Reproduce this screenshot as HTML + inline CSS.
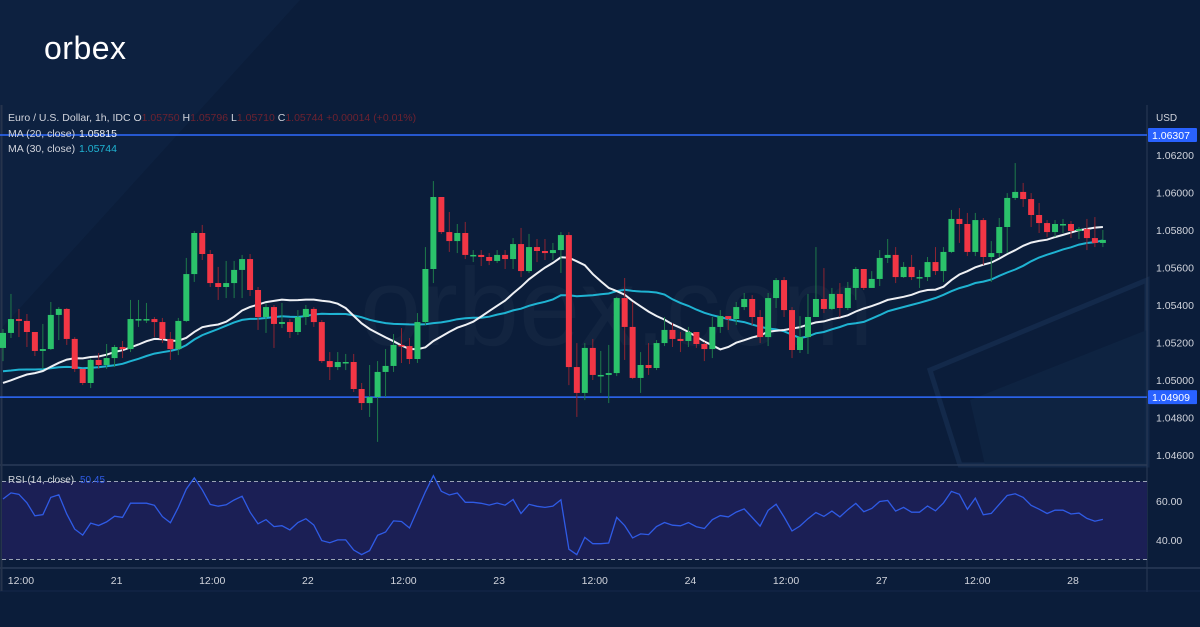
<!DOCTYPE html>
<html><head><meta charset="utf-8">
<style>
html,body{margin:0;padding:0;background:#0b1d3a;}
#wrap{position:relative;width:1200px;height:627px;overflow:hidden;background:#0b1d3a;font-family:"Liberation Sans",sans-serif;}
svg{position:absolute;left:0;top:0;}
</style></head>
<body>
<div id="wrap">
<svg id="chart" width="1200" height="627"></svg>
</div>
<script>
const open0 = 1.05171;
const closes = [1.05251,1.05325,1.05315,1.05256,1.05155,1.05165,1.05347,1.05379,1.05219,1.05059,1.04984,1.05107,1.05080,1.05117,1.05176,1.05165,1.05325,1.05325,1.05325,1.05309,1.05219,1.05165,1.05315,1.05565,1.05784,1.05672,1.05517,1.05496,1.05517,1.05587,1.05645,1.05480,1.05336,1.05389,1.05299,1.05309,1.05256,1.05336,1.05379,1.05309,1.05101,1.05069,1.05096,1.05096,1.04952,1.04877,1.04909,1.05043,1.05075,1.05187,1.05181,1.05112,1.05309,1.05592,1.05976,1.05789,1.05741,1.05784,1.05667,1.05667,1.05656,1.05635,1.05667,1.05645,1.05725,1.05581,1.05709,1.05688,1.05677,1.05693,1.05773,1.05069,1.04931,1.05171,1.05027,1.05027,1.05037,1.05437,1.05283,1.05011,1.05080,1.05064,1.05197,1.05267,1.05219,1.05208,1.05256,1.05192,1.05165,1.05283,1.05341,1.05325,1.05389,1.05432,1.05336,1.05229,1.05437,1.05533,1.05373,1.05160,1.05229,1.05336,1.05432,1.05379,1.05459,1.05384,1.05491,1.05592,1.05491,1.05539,1.05651,1.05667,1.05549,1.05603,1.05549,1.05549,1.05629,1.05581,1.05683,1.05859,1.05832,1.05683,1.05853,1.05656,1.05677,1.05816,1.05971,1.06003,1.05965,1.05880,1.05837,1.05789,1.05832,1.05832,1.05795,1.05805,1.05757,1.05731,1.05747];
const highs = [1.05272,1.05459,1.05379,1.05352,1.05256,1.05299,1.05416,1.05389,1.05384,1.05229,1.05059,1.05117,1.05144,1.05192,1.05187,1.05208,1.05427,1.05427,1.05411,1.05336,1.05331,1.05256,1.05331,1.05651,1.05795,1.05827,1.05693,1.05603,1.05635,1.05635,1.05667,1.05672,1.05496,1.05411,1.05400,1.05411,1.05325,1.05373,1.05400,1.05389,1.05320,1.05149,1.05149,1.05139,1.05139,1.04984,1.05080,1.05101,1.05165,1.05245,1.05277,1.05224,1.05357,1.05709,1.06061,1.05976,1.05896,1.05832,1.05843,1.05693,1.05693,1.05677,1.05693,1.05693,1.05757,1.05811,1.05779,1.05752,1.05752,1.05731,1.05789,1.05789,1.05197,1.05197,1.05219,1.05155,1.05187,1.05443,1.05544,1.05416,1.05149,1.05197,1.05213,1.05336,1.05304,1.05256,1.05283,1.05256,1.05203,1.05336,1.05373,1.05336,1.05416,1.05464,1.05453,1.05373,1.05464,1.05544,1.05549,1.05389,1.05341,1.05459,1.05709,1.05597,1.05491,1.05517,1.05523,1.05603,1.05587,1.05581,1.05693,1.05752,1.05709,1.05629,1.05667,1.05587,1.05656,1.05709,1.05709,1.05907,1.05917,1.05891,1.05891,1.05864,1.05741,1.05864,1.05997,1.06157,1.06051,1.05997,1.05944,1.05853,1.05853,1.05859,1.05848,1.05816,1.05859,1.05869,1.05800];
const lows = [1.05101,1.05224,1.05229,1.05176,1.05128,1.05059,1.05160,1.05213,1.05187,1.05043,1.04973,1.04957,1.05059,1.05059,1.05069,1.05117,1.05149,1.05283,1.05304,1.05229,1.05197,1.05107,1.05133,1.05309,1.05523,1.05640,1.05496,1.05427,1.05437,1.05437,1.05437,1.05448,1.05267,1.05251,1.05171,1.05277,1.05224,1.05240,1.05293,1.05283,1.05091,1.05000,1.05053,1.05053,1.04936,1.04840,1.04803,1.04670,1.04909,1.05043,1.05091,1.05085,1.05091,1.05293,1.05517,1.05779,1.05683,1.05677,1.05645,1.05629,1.05608,1.05613,1.05624,1.05592,1.05592,1.05549,1.05571,1.05629,1.05640,1.05640,1.05571,1.04973,1.04803,1.04893,1.05000,1.04931,1.04877,1.05021,1.05107,1.05005,1.04931,1.05027,1.05053,1.05181,1.05176,1.05149,1.05176,1.05171,1.05101,1.05117,1.05251,1.05267,1.05293,1.05373,1.05293,1.05197,1.05181,1.05384,1.05336,1.05117,1.05144,1.05139,1.05336,1.05357,1.05373,1.05336,1.05373,1.05427,1.05480,1.05496,1.05501,1.05624,1.05517,1.05544,1.05533,1.05491,1.05528,1.05560,1.05523,1.05677,1.05731,1.05661,1.05661,1.05613,1.05523,1.05656,1.05677,1.05960,1.05923,1.05816,1.05784,1.05763,1.05763,1.05784,1.05757,1.05752,1.05693,1.05709,1.05709];
const priorCloses = [1.05210,1.05180,1.05240,1.05150,1.05120,1.05190,1.05230,1.05160,1.05100,1.05140,1.05050,1.04990,1.04960,1.05010,1.04940,1.04900,1.04950,1.04880,1.04920,1.04990,1.04960,1.05020,1.04930,1.04890,1.04970,1.05030,1.05010,1.04980,1.05060];
const priceTicks = [1.062,1.060,1.058,1.056,1.054,1.052,1.050,1.048,1.046];
const levelLines = [1.06307,1.04909];
const rsiTicks = [60,40];
const timeLabels = ["12:00","21","12:00","22","12:00","23","12:00","24","12:00","27","12:00","28"];
const timeLabelIdx = [2,14,26,38,50,62,74,86,98,110,122,134];

const NS="http://www.w3.org/2000/svg";
const svg=document.getElementById('chart');
function el(tag,attrs,parent){const e=document.createElementNS(NS,tag);for(const k in attrs)e.setAttribute(k,attrs[k]);(parent||svg).appendChild(e);return e;}
const xOf=i=>3+7.97*i;
const yOf=p=>155+(1.062-p)*18750;
const yRsi=v=>520.5-(v-50)*1.95;
const W=1147;

let g=el('g',{});

el('polygon',{points:'0,0 300,0 0,330',fill:'#0f2444',opacity:'0.6'},g);
el('polygon',{points:'930,370 1147,280 1147,465 960,465',fill:'none',stroke:'#13294a','stroke-width':'5'},g);
el('polygon',{points:'970,400 1147,330 1147,465 985,465',fill:'#0f2544',opacity:'0.8'},g);
let wm=el('text',{x:360,y:345,fill:'#ffffff','fill-opacity':'0.03','font-size':'110','font-family':'Liberation Sans, sans-serif'},g);
wm.textContent='orbex.com';


let ax=el('g',{});

el('line',{x1:W,y1:105,x2:W,y2:592,stroke:'#2b3b57','stroke-width':1},ax);
el('line',{x1:0,y1:465,x2:W,y2:465,stroke:'#2b3b57','stroke-width':1.5},ax);
el('line',{x1:0,y1:568,x2:1200,y2:568,stroke:'#2b3b57','stroke-width':1.5},ax);
el('line',{x1:0,y1:591,x2:1200,y2:591,stroke:'#15284a','stroke-width':1},ax);
el('line',{x1:1.5,y1:105,x2:1.5,y2:591,stroke:'#26344c','stroke-width':2},ax);

let usd=el('text',{x:1156,y:121,fill:'#d1d4dc','font-size':'10'});usd.textContent='USD';

priceTicks.forEach(p=>{const t=el('text',{x:1156,y:yOf(p)+4,fill:'#d1d4dc','font-size':'10.5'});t.textContent=p.toFixed(5);
});

levelLines.forEach(p=>{const y=yOf(p);
const l=el('line',{x1:0,y1:y,x2:W,y2:y,stroke:'#2f6bff','stroke-width':1.5});

const r=el('rect',{x:1148,y:y-7,width:49,height:14,fill:'#2962ff',rx:1});

const t=el('text',{x:1152,y:y+4,fill:'#ffffff','font-size':'10.5'});t.textContent=p.toFixed(5);
});

const all=priorCloses.concat(closes);const off=priorCloses.length;
function ma(n){const out=[];for(let i=0;i<closes.length;i++){let s=0;for(let k=0;k<n;k++)s+=all[off+i-k];out.push(s/n);}return out;}
const ma20=ma(20),ma30=ma(30);
function path(arr,f){return arr.map((v,i)=>(i?'L':'M')+xOf(i).toFixed(1)+','+f(v).toFixed(1)).join(' ');}
let m30=el('path',{d:path(ma30,yOf),fill:'none',stroke:'#1fb3d2','stroke-width':2});

let m20=el('path',{d:path(ma20,yOf),fill:'none',stroke:'#eef0f4','stroke-width':2});


closes.forEach((c,i)=>{const o=i?closes[i-1]:open0;const up=c>=o;const col=up?'#2bc26b':'#f23645';const wcol=up?'#1e7a4a':'#8c2432';const x=xOf(i);
const w=el('line',{x1:x,y1:yOf(highs[i]),x2:x,y2:yOf(lows[i]),stroke:wcol,'stroke-width':1});

const yt=Math.min(yOf(o),yOf(c));const h=Math.max(1.5,Math.abs(yOf(o)-yOf(c)));
const b=el('rect',{x:x-3,y:yt,width:6,height:h,fill:col});
});

const rsi=[];{let ag=0,al=0;const n=14;
for(let k=1;k<=n;k++){const d=all[k]-all[k-1];if(d>0)ag+=d;else al-=d;}ag/=n;al/=n;
for(let k=n+1;k<all.length;k++){const d=all[k]-all[k-1];ag=(ag*(n-1)+Math.max(d,0))/n;al=(al*(n-1)+Math.max(-d,0))/n;if(k>=off)rsi.push(al===0?100:100-100/(1+ag/al));}}
let band=el('rect',{x:2,y:yRsi(70),width:W-2,height:yRsi(30)-yRsi(70),fill:'#1b1f55'});

[70,30].forEach(v=>{const l=el('line',{x1:2,y1:yRsi(v),x2:W,y2:yRsi(v),stroke:'#9aa3b5','stroke-width':1,'stroke-dasharray':'4,3'});
});
let rl=el('path',{d:path(rsi,yRsi),fill:'none',stroke:'#2f5be6','stroke-width':1.3});

rsiTicks.forEach(v=>{const t=el('text',{x:1156,y:yRsi(v)+4,fill:'#d1d4dc','font-size':'10.5'});t.textContent=v.toFixed(2);
});

timeLabels.forEach((s,k)=>{const t=el('text',{x:xOf(timeLabelIdx[k])+2,y:584,fill:'#d1d4dc','font-size':'10.5','text-anchor':'middle'});t.textContent=s;
});

function txt(x,y,s,fill,size,name){const t=el('text',{x:x,y:y,fill:fill,'font-size':size});t.textContent=s;return t;}
const lg=el('text',{x:8,y:121,'font-size':'10.5',fill:'#d1d4dc'});

[['Euro / U.S. Dollar, 1h, IDC  O','#d1d4dc'],['1.05750','#6e2230'],['  H','#d1d4dc'],['1.05796','#6e2230'],['  L','#d1d4dc'],['1.05710','#6e2230'],['  C','#d1d4dc'],['1.05744  +0.00014 (+0.01%)','#6e2230']].forEach(([s,c])=>{const ts=el('tspan',{fill:c},lg);ts.textContent=s;});
txt(8,137,'MA (20, close)','#d1d4dc','10.5','ma20-legend-label');
txt(79,137,'1.05815','#eef0f4','10.5','ma20-legend-value');
txt(8,152,'MA (30, close)','#d1d4dc','10.5','ma30-legend-label');
txt(79,152,'1.05744','#1fb3d2','10.5','ma30-legend-value');
txt(8,483,'RSI (14, close)','#d1d4dc','10','rsi-legend-label');
txt(80,483,'50.45','#2f5be6','10','rsi-legend-value');
const logo=el('text',{x:44,y:59,fill:'#ffffff','font-size':'32','font-family':'Liberation Sans, sans-serif','letter-spacing':'0.5'});
logo.textContent='orbex';

</script>
</body></html>
